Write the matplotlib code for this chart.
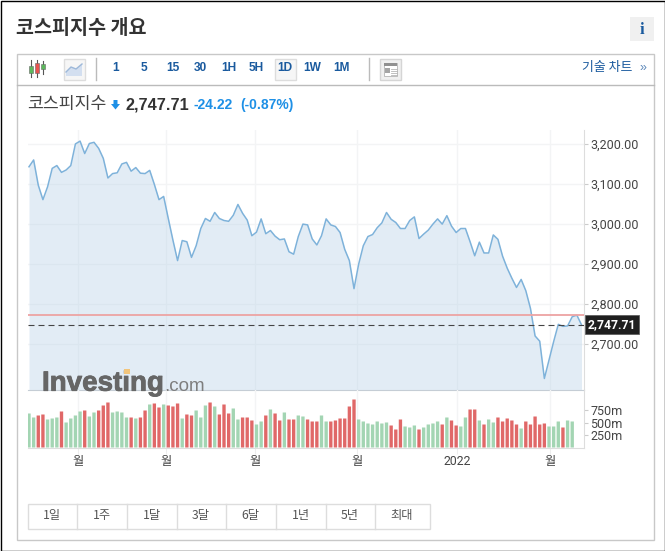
import numpy as np
import matplotlib
matplotlib.use('Agg')
import matplotlib.pyplot as plt
import matplotlib.patheffects as pe
from matplotlib.patches import Rectangle, Polygon

KR = ['Noto Sans CJK KR', 'DejaVu Sans']
plt.rcParams['font.family'] = KR

# daily close
closes = [
    3142, 3159, 3096, 3060, 3092, 3138, 3145, 3128, 3134, 3145,
    3199, 3206, 3175, 3200, 3203, 3188, 3163, 3114, 3125, 3127,
    3149, 3153, 3131, 3140, 3126, 3125, 3133, 3098, 3060, 3068,
    3013, 2959, 2908, 2958, 2955, 2916, 2945, 2988, 3013, 3006,
    3028, 3013, 3008, 3006, 3021, 3048, 3026, 3009, 2970, 2979,
    3012, 2975, 2983, 2969, 2960, 2962, 2930, 2924, 2968, 2999,
    2997, 2962, 2947, 2970, 3012, 2997, 2993, 2978, 2936, 2908,
    2838, 2899, 2945, 2968, 2973, 2990, 3002, 3028, 3011, 3003,
    2988, 2988, 3008, 3017, 2963, 2974, 2984, 2999, 3012, 2999,
    3020, 2994, 2978, 2988, 2988, 2955, 2920, 2954, 2927, 2927,
    2972, 2961, 2919, 2889, 2864, 2841, 2861, 2833, 2789, 2720,
    2707, 2614, 2660, 2706, 2749, 2744, 2745, 2768, 2771.93, 2747.71,
]

# daily volume in millions, the two latest sessions have none yet
volumes = [
    680, 600, 640, 660, 560, 580, 600, 720, 500, 580,
    640, 720, 740, 620, 700, 740, 840, 900, 700, 720,
    700, 600, 600, 580, 600, 740, 860, 880, 800, 860,
    840, 820, 880, 580, 660, 640, 740, 600, 840, 900,
    820, 660, 860, 680, 780, 560, 600, 600, 540, 460,
    520, 640, 760, 680, 540, 700, 560, 560, 640, 620,
    560, 520, 520, 640, 520, 520, 540, 580, 580, 820,
    960, 560, 520, 480, 460, 520, 480, 500, 440, 360,
    560, 420, 400, 440, 360, 400, 460, 480, 520, 460,
    600, 540, 440, 420, 600, 760, 760, 540, 460, 560,
    500, 600, 520, 580, 540, 460, 380, 520, 460, 620,
    460, 480, 420, 420, 520, 400, 540, 520,
]
volume_sides = (
    'GGRRGGGRGGGGRGGRRRGGGGRGRRGRRGRRRGRRGGGRGRRRGGRRRGGRGRRGRRGGR'
    'RRGGRRRRRRGGGGGGGRRRGGGRGGGGRGRRGGRRGRGGRRRRRGRRRRRGGGRGG'
)

price_ticks = [3200, 3100, 3000, 2900, 2800, 2700]
volume_ticks = [750, 500, 250]
# session positions of the month boundaries
date_ticks = [10.6, 29.6, 48.6, 70.6, 92.2, 112.2]
date_labels = ['월', '월', '월', '월', '2022', '월']
last_price = 2747.71
prev_close = 2771.93

intervals = ['1', '5', '15', '30', '1H', '5H', '1D', '1W', '1M']
ranges = ['1일', '1주', '1달', '3달', '6달', '1년', '5년', '최대']

W, H = 665, 551
BLUE = '#1a5a9e'
BRIGHT = '#1e90e6'
TICK = '#444444'
GRID = '#f3f4f5'


def px_axes(fig, x0, y0, x1, y1):
    # axes from pixel corners, y measured from the top
    return fig.add_axes([x0 / W, 1 - y1 / H, (x1 - x0) / W, (y1 - y0) / H])


def pixel_overlay(ax):
    ax.set_xlim(0, W)
    ax.set_ylim(H, 0)
    ax.axis('off')


def box(ax, x0, y0, x1, y1, fc='none', ec='none', lw=1.0, z=2):
    ax.add_patch(Rectangle((x0, y0), x1 - x0, y1 - y0, fc=fc, ec=ec, lw=lw, zorder=z))


def draw_page(ax):
    pixel_overlay(ax)

    box(ax, 0.5, 0.5, 664.5, 550.5, ec='black')
    box(ax, 16.5, 53.5, 653.5, 539.5, ec='#c8c8c8')
    ax.plot([16.5, 653.5], [84.5, 84.5], color='#bbbbbb', lw=1)

    ax.text(16, 28, '코스피지수 개요', fontsize=14.1, fontweight='bold', color='#333333', va='center')
    box(ax, 630, 17, 654, 41, fc='#f0f0f0')
    ax.text(642, 29.5, 'i', fontsize=12, fontweight='bold', family='Liberation Serif',
            color=BLUE, ha='center', va='center')

    # candlestick button
    for x, y0, y1, b0, b1, col in [(30.5, 60, 77, 66, 73, '#5cb85c'),
                                   (36.5, 60, 77, 63, 73, '#e8534f'),
                                   (42.5, 61, 74, 64, 69, '#5cb85c')]:
        ax.plot([x, x], [y0, y1], color='#555555', lw=0.8)
        box(ax, x - 2, b0, x + 2, b1, fc=col, ec='#666666', lw=0.4, z=3)

    # line chart button
    box(ax, 63.5, 58.5, 84.5, 79.5, fc='#f6f6f6', ec='#dddddd')
    ax.add_patch(Polygon([(66, 72), (71, 67), (76, 69), (82, 64), (82, 76), (66, 76)],
                         fc='#d3dff0', ec='none', zorder=3))
    ax.plot([66, 71, 76, 82], [72, 67, 69, 64], color='#9db8d9', lw=1, zorder=4)

    ax.plot([95.5, 95.5], [58, 80], color='#bbbbbb', lw=1)
    ax.plot([368.5, 368.5], [58, 80], color='#bbbbbb', lw=1)

    box(ax, 274.5, 58.5, 295.5, 79.5, fc='#f6f6f6', ec='#dddddd')
    interval_x = [116, 144, 172.5, 200.5, 228.5, 256, 285, 312.5, 341]
    for x, label in zip(interval_x, intervals):
        ax.text(x, 68, label, fontsize=8.6, fontweight='bold', family='Liberation Sans',
                color=BLUE, ha='center', va='center', zorder=5)

    # layout button
    box(ax, 379.5, 58.5, 400.5, 79.5, fc='#f0f0f0', ec='#d5d5d5')
    box(ax, 384, 63, 397, 76, fc='white', ec='#b5b5b5', lw=0.6, z=3)
    box(ax, 384, 63, 397, 66, fc='#909090', z=4)
    box(ax, 384.5, 68, 390, 73, fc='#a5a5a5', z=4)
    for y in (68.5, 70.5, 72.5, 74.5):
        ax.plot([391, 396.5], [y, y], color='#b5b5b5', lw=0.6, zorder=4)

    ax.text(582, 67, '기술 차트', fontsize=9.3, color=BLUE, va='center')
    ax.text(639, 68.5, '»', fontsize=9, color='#5a86b8', family='Liberation Sans', va='center')

    # quote line
    ax.text(27, 104, '코스피지수', fontsize=12.4, color='#444444', va='center')
    ax.add_patch(Polygon([(113.5, 100), (117.5, 100), (117.5, 104), (120, 104), (115.5, 109.5), (111, 104), (113.5, 104)],
                         fc=BRIGHT, ec='none'))
    ax.text(125, 105, f'{last_price:,.2f}', fontsize=11.7, fontweight='bold', family='Liberation Sans',
            color='#333333', va='center')
    ax.text(194, 105, '-24.22', fontsize=10, fontweight='bold', family='Liberation Sans', color=BRIGHT, va='center')
    ax.text(240, 105, '(-0.87%)', fontsize=10, fontweight='bold', family='Liberation Sans', color=BRIGHT, va='center')

    # range selector
    edges = [27.5, 76.5, 126.5, 176.5, 225.5, 275.5, 325.5, 374.5, 429.5]
    box(ax, edges[0], 503.5, edges[-1], 528.5, ec='#dddddd')
    for x in edges[1:-1]:
        ax.plot([x, x], [503.5, 528.5], color='#dddddd', lw=1)
    for left, right, label in zip(edges[:-1], edges[1:], ranges):
        ax.text((left + right) / 2, 515, label, fontsize=8.8, color='#555555', ha='center', va='center')


def style_chart_axes(ax):
    ax.patch.set_alpha(0)
    for side in ('top', 'left', 'right', 'bottom'):
        ax.spines[side].set_visible(False)
    ax.set_xlim(x_lim)
    ax.set_xticks(date_ticks)
    ax.yaxis.tick_right()
    ax.tick_params(axis='y', length=2.9, width=0.8, color='#cccccc', labelcolor=TICK, pad=1.4)
    ax.grid(True, color=GRID, lw=1)
    ax.set_axisbelow(True)


# x(i) = 29 + 4.643 * i in pixels across the plot from 28 to 584.3
x_lim = (-0.215, 119.6)

fig = plt.figure(figsize=(W / 100, H / 100), dpi=100, facecolor='white')
page = fig.add_axes([0, 0, 1, 1])
draw_page(page)

# price panel
ax_price = px_axes(fig, 28, 130, 584.3, 389.5)
style_chart_axes(ax_price)
y_min, y_max = 2586.5, 3233.7
ax_price.set_ylim(y_min, y_max)
sessions = np.arange(len(closes))
ax_price.fill_between(sessions, closes, y_min, color='#bcd4e8', alpha=0.42, lw=0, zorder=2)
ax_price.plot(sessions, closes, color='#7eb2da', lw=1.1, zorder=3)
ax_price.axhline(prev_close, color='#eda3a3', lw=1.3, zorder=4)
ax_price.axhline(last_price, color='#444444', lw=0.8, dashes=(5.4, 3.6), zorder=5)
ax_price.set_yticks(price_ticks)
ax_price.set_yticklabels([f'{v:,.2f}' for v in price_ticks], family='Roboto', fontsize=9, va='center_baseline')
ax_price.tick_params(axis='x', length=0, labelbottom=False)
ax_price.spines['bottom'].set_visible(True)
ax_price.spines['bottom'].set_color('#c5cdd5')
ax_price.spines['right'].set_visible(True)
ax_price.spines['right'].set_color('#dddddd')

# last price tag
ax_price.annotate(f'{last_price:,.2f}', xy=(1, last_price), xycoords=('axes fraction', 'data'),
                  xytext=(27.5, 0), textcoords='offset pixels', ha='center', va='center',
                  family='Roboto', fontweight='bold', fontsize=8.7, color='white', zorder=8,
                  annotation_clip=False,
                  bbox=dict(boxstyle='square,pad=0.25', fc='#1f1f1f', ec='#555555', lw=0.5))

# volume panel
ax_vol = px_axes(fig, 28, 389.5, 584.3, 447.5)
style_chart_axes(ax_vol)
ax_vol.set_ylim(0, 58 / 0.05)
bar_colors = ['#a3d5b3' if s == 'G' else '#e06868' for s in volume_sides]
bars = ax_vol.bar(np.arange(len(volumes)), volumes, width=0.72, color=bar_colors, zorder=3)
for bar in bars:
    bar.set_snap(False)
ax_vol.grid(False, axis='y')
ax_vol.set_yticks(volume_ticks)
ax_vol.set_yticklabels([f'{v}m' for v in volume_ticks], family='Roboto', fontsize=9, va='center_baseline')
ax_vol.set_xticklabels(date_labels, fontsize=8.8, color=TICK, family=['Roboto'] + KR)
ax_vol.tick_params(axis='x', length=4, width=0.8, color='#eeeeee', pad=1.4)
ax_vol.spines['bottom'].set_visible(True)
ax_vol.spines['bottom'].set_color('#dddddd')
ax_vol.spines['right'].set_visible(True)
ax_vol.spines['right'].set_color('#dddddd')

# watermark sits above both panels
mark = fig.add_axes([0, 0, 1, 1], zorder=5)
mark.patch.set_alpha(0)
pixel_overlay(mark)
mark.text(42, 390.7, 'Investing', family='Liberation Sans', fontweight='bold', fontsize=20,
          color='#666666', va='baseline',
          path_effects=[pe.withStroke(linewidth=0.6, foreground='#666666')])
mark.text(164, 390.7, '.com', family='Liberation Sans', fontsize=13.5, color='#7e7e7e', va='baseline')
box(mark, 123.5, 368.5, 129.5, 373.5, fc='#f2c57c', z=4)

fig.savefig('out.png', dpi=100, facecolor='white')
